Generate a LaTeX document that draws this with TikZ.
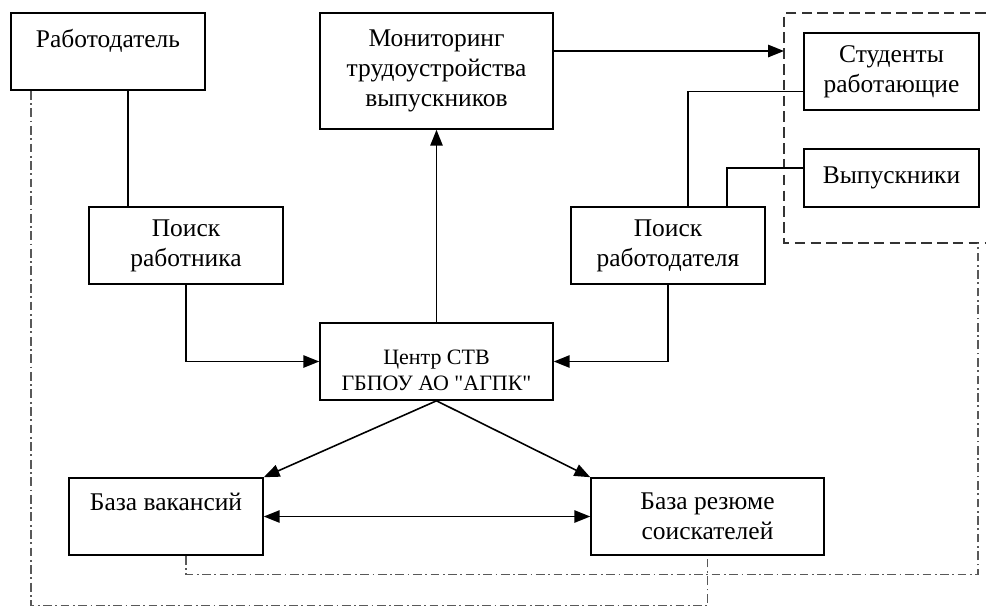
\documentclass[tikz,border=0pt]{standalone}
\usepackage{fontspec}
\setmainfont{Liberation Serif}[Ligatures=TeXOff]
\usetikzlibrary{arrows.meta}

\tikzset{
  box/.style={draw, line width=0.9pt, align=center, inner sep=2pt,
    font=\fontsize{14.5}{17}\selectfont},
  smallbox/.style={box, font=\fontsize{12.5}{15}\selectfont},
  ln/.style={line width=0.9pt},
  arr/.style={ln, -{Triangle[length=9pt,width=7pt]}},
  dblarr/.style={ln, {Triangle[length=9pt,width=7pt]}-{Triangle[length=9pt,width=7pt]}},
  dashdot/.style={line width=0.7pt, black!65, dash pattern=on 5pt off 2pt on 1pt off 2pt},
  framedash/.style={line width=0.8pt, black!80, dash pattern=on 6pt off 3pt},
}

\begin{document}
\begin{tikzpicture}[x=0.02cm,y=-0.02cm]
    \useasboundingbox (0,0) rectangle (986,610);
    % boxes
    \node[box, minimum width=3.88cm, minimum height=1.54cm] (employer) at (108,51.5) {Работодатель\\[-7pt] \strut};
    \node[box, minimum width=4.66cm, minimum height=2.32cm] (monitor) at (436.5,71) {Мониторинг\\трудоустройства\\выпускников};
    \node[box, minimum width=3.5cm, minimum height=1.54cm] (students) at (891.5,71.5) {Студенты\\работающие};
    \node[box, minimum width=3.5cm, minimum height=1.16cm] (grads) at (891.5,178) {Выпускники};
    \node[box, minimum width=3.88cm, minimum height=1.54cm] (findworker) at (186,245.5) {Поиск\\работника};
    \node[box, minimum width=3.88cm, minimum height=1.54cm] (findemployer) at (668,245.5) {Поиск\\работодателя};
    \node[smallbox, minimum width=4.66cm, minimum height=1.54cm] (centre) at (436.5,361.5) {\strut\\[-7pt]Центр СТВ\\ГБПОУ АО "АГПК"};
    \node[box, minimum width=3.88cm, minimum height=1.54cm] (vacancies) at (166,516.5) {База вакансий\\[-5pt] \strut};
    \node[box, minimum width=4.66cm, minimum height=1.54cm] (resumes) at (707.5,516.5) {База резюме\\соискателей};
    % dashed frame round the students
    \coordinate (frNW) at (784,13);
    \coordinate (frSW) at (784,243);
    \coordinate (frS) at (978,243);
    \draw[framedash] (986,13) -- (frNW) -- (frSW) -- (986,243);
    % connectors
    \draw[ln] (employer.south) ++(20,0) coordinate (e1) -- (e1 |- findworker.north);
    \draw[arr] (findworker.south) |- (centre.west);
    \draw[arr] (findemployer.south) |- (centre.east);
    \draw[arr] (centre.north) -- (monitor.south);
    \draw[arr] (monitor.east) ++(0,-20) coordinate (m1) -- (m1 -| frNW);
    \draw[ln] (findemployer.north) ++(20,0) coordinate (s1) |- ([yshift=-0.4cm]students.west);
    \draw[ln] (findemployer.north) ++(59,0) coordinate (g1) |- ([yshift=0.2cm]grads.west);
    \draw[arr] (centre.south) -- (vacancies.north east);
    \draw[arr] (centre.south) -- (resumes.north west);
    \draw[dblarr] (vacancies.east) -- (resumes.west);
    % dash-dot links
    \draw[dashdot] (employer.south) ++(-77,0) -- ++(0,515) -| (resumes.south);
    \draw[dashdot] (vacancies.south) ++(20,0) -- ++(0,19) -| (frS);
\end{tikzpicture}
\end{document}
